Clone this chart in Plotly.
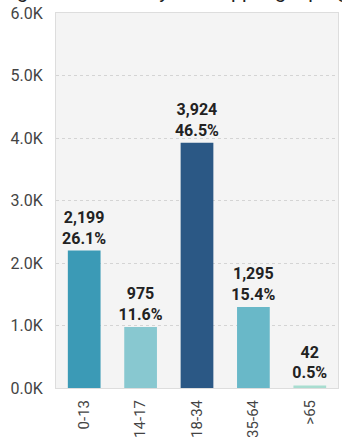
import plotly.graph_objects as go

categories = ["0-13", "14-17", "18-34", "35-64", ">65"]
counts = [2199, 975, 3924, 1295, 42]
percents = ["26.1%", "11.6%", "46.5%", "15.4%", "0.5%"]
bar_colors = ["#3b9ab6", "#88c8d0", "#2b5885", "#69b8c8", "#a8ddd0"]
y_tickvals = [0, 1000, 2000, 3000, 4000, 5000, 6000]
y_ticktext = ["0.0K", "1.0K", "2.0K", "3.0K", "4.0K", "5.0K", "6.0K"]
title_text = "Age Breakdown by Web App Signup Age Range"

fig = go.Figure(go.Bar(
    x=categories,
    y=counts,
    customdata=percents,
    marker=dict(color=bar_colors, line=dict(width=0)),
    texttemplate="<b>%{y:,}<br>%{customdata}</b>",
    textposition="outside",
    textangle=0,
    constraintext="none",
    cliponaxis=False,
    textfont=dict(family="Roboto", size=16, color="#222222"),
))

fig.update_layout(
    width=342, height=437,
    margin=dict(l=56, r=4, t=13, b=49, autoexpand=False),
    paper_bgcolor="#ffffff",
    plot_bgcolor="#f4f4f4",
    bargap=0.42,
    showlegend=False,
    font=dict(family="Roboto", color="#444444", size=16),
    annotations=[dict(
        text=title_text, xref="paper", yref="paper", x=-0.19, y=1.0,
        xanchor="left", yanchor="bottom", yshift=8, showarrow=False,
        font=dict(family="Roboto", size=20, color="#222222"),
    )],
)
fig.update_xaxes(
    tickangle=-90, automargin=False,
    showline=True, linecolor="#dddddd", mirror=True,
    ticks="", ticklabelstandoff=5,
    tickfont=dict(family="Roboto", size=15, color="#444444"),
)
fig.update_yaxes(
    range=[0, 6000], automargin=False,
    tickvals=y_tickvals, ticktext=y_ticktext,
    showgrid=True, gridcolor="#d4d4d4", griddash="dot",
    showline=True, linecolor="#dddddd", mirror=True,
    zeroline=False, ticks="", ticklabelstandoff=9,
    tickfont=dict(family="Roboto", size=16, color="#444444"),
)

fig.write_html(
    "out.html",
    config={"displayModeBar": False},
    post_script="document.body.style.margin='0';document.body.style.overflow='hidden';",
)
